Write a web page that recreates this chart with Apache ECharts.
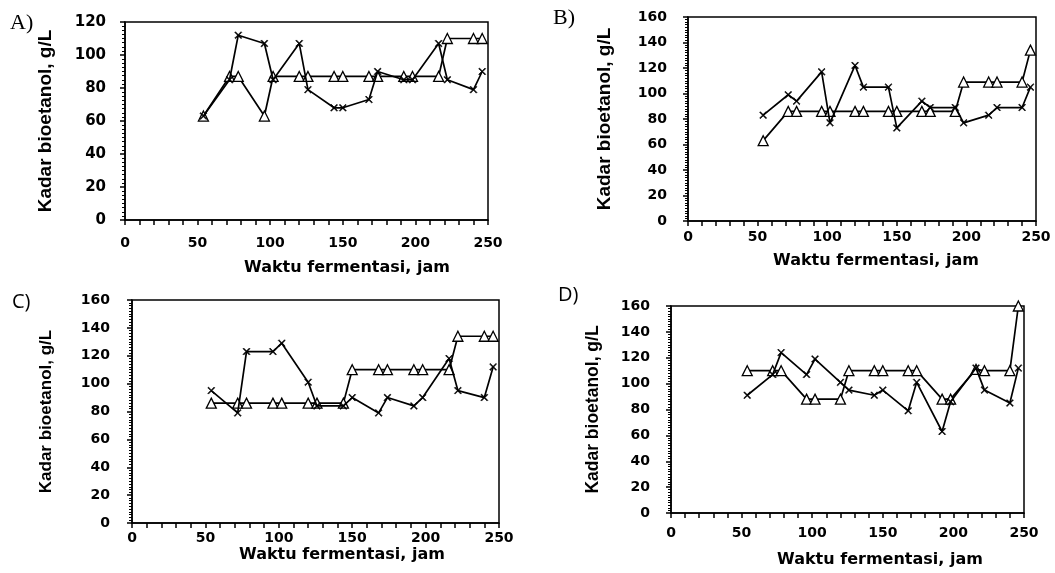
<!DOCTYPE html>
<html>
<head>
<meta charset="utf-8">
<script src="https://cdn.jsdelivr.net/npm/echarts@6/dist/echarts.min.js"></script>
<style>
  html, body { margin: 0; padding: 0; background: #fff; }
  #chart { width: 1055px; height: 573px; }
</style>
</head>
<body>
<div id="chart"></div>
<script>
// sampling times, hours
const hours = [54, 72, 78, 96, 102, 120, 126, 144, 150, 168, 174, 192, 198, 216, 222, 240, 246];

// bioethanol content, g/L
const triA = [63, 87, 87, 63, 87, 87, 87, 87, 87, 87, 87, 87, 87, 87, 110, 110, 110];
const starA = [63, 85, 112, 107, 85, 107, 79, 68, 68, 73, 90, 85, 85, 107, 85, 79, 90];
const triB = [63, 86, 86, 86, 86, 86, 86, 86, 86, 86, 86, 86, 109, 109, 109, 109, 134];
const starB = [83, 99, 94, 117, 77, 122, 105, 105, 73, 94, 89, 89, 77, 83, 89, 89, 105];
const triC = [86, 86, 86, 86, 86, 86, 86, 86, 110, 110, 110, 110, 110, 110, 134, 134, 134];
const starC = [95, 79, 123, 123, 129, 101, 84, 84, 90, 79, 90, 84, 90, 118, 95, 90, 112];
const triD = [110, 110, 110, 88, 88, 88, 110, 110, 110, 110, 110, 88, 88, 111, 110, 110, 160];
const starD = [91, 107, 124, 107, 119, 101, 95, 91, 95, 79, 101, 63, 86, 112, 95, 85, 112];

const panelNames = ['A)', 'B)', 'C)', 'D)'];
const yMax = [120, 160, 160, 160];

const xTitle = 'Waktu fermentasi, jam';
const yTitle = 'Kadar bioetanol, g/L';

const starPath = 'path://M0,1L1,0L5,4L9,0L10,1L6,5L10,9L9,10L5,6L1,10L0,9L4,5Z';

// one entry per panel: grid box and text placement
const panels = [
  { left: 125, top: 22, width: 363, height: 198, xMargin: 16, yMargin: 19, yGap: 70, ySize: 19, yFont: 15, minor: 8,
    label: [10, 25, 'serif'], xt: [347, 268] },
  { left: 688, top: 17, width: 348, height: 204, xMargin: 9, yMargin: 21, yGap: 74, ySize: 19, yFont: 14, minor: 10,
    label: [553, 20, 'serif'], xt: [876, 261] },
  { left: 132, top: 300, width: 367, height: 223, xMargin: 8, yMargin: 22, yGap: 77, ySize: 17, yFont: 14, minor: 10,
    label: [12, 305, 'sans'], xt: [342, 555] },
  { left: 671, top: 306, width: 353, height: 207, xMargin: 13, yMargin: 21, yGap: 69, ySize: 17.5, yFont: 14, minor: 10,
    label: [558, 298, 'sans'], xt: [880, 560] }
];

const seriesData = [[triA, starA], [triB, starB], [triC, starC], [triD, starD]];

function pairs(ys) {
  return hours.map((h, i) => [h, ys[i]]);
}

const grid = [];
const xAxis = [];
const yAxis = [];
const series = [];
const graphic = [];

panels.forEach((p, i) => {
  grid.push({
    left: p.left, top: p.top, width: p.width, height: p.height,
    show: true, borderColor: '#000', borderWidth: 1.5, backgroundColor: '#fff'
  });
  xAxis.push({
    type: 'value', gridIndex: i, min: 0, max: 250, interval: 50,
    axisLine: { show: true, onZero: false, lineStyle: { color: '#000', width: 1.5 } },
    axisTick: { show: true, length: 5, lineStyle: { color: '#000', width: 1.5 } },
    minorTick: { show: true, splitNumber: 5, length: 5, lineStyle: { color: '#000', width: 1.5 } },
    splitLine: { show: false },
    axisLabel: { margin: p.xMargin, color: '#000', fontFamily: 'DejaVu Sans', fontWeight: 'bold', fontSize: 14 }
  });
  yAxis.push({
    type: 'value', gridIndex: i, min: 0, max: yMax[i], interval: 20,
    name: yTitle, nameLocation: 'middle', nameGap: p.yGap, nameRotate: 90,
    nameTextStyle: { color: '#000', fontFamily: 'Liberation Sans', fontWeight: 'bold', fontSize: p.ySize },
    axisLine: { show: true, onZero: false, lineStyle: { color: '#000', width: 1.5 } },
    axisTick: { show: true, length: 5, lineStyle: { color: '#000', width: 1.5 } },
    minorTick: { show: true, splitNumber: p.minor, length: 3, lineStyle: { color: '#000', width: 1 } },
    splitLine: { show: false },
    axisLabel: { margin: p.yMargin, color: '#000', fontFamily: 'DejaVu Sans', fontWeight: 'bold', fontSize: p.yFont }
  });
  series.push({
    type: 'line', xAxisIndex: i, yAxisIndex: i, data: pairs(seriesData[i][0]),
    symbol: 'triangle', symbolSize: 10, clip: false, z: 3,
    lineStyle: { color: '#000', width: 1.7 },
    itemStyle: { color: '#fff', borderColor: '#000', borderWidth: 1.3 }
  });
  series.push({
    type: 'line', xAxisIndex: i, yAxisIndex: i, data: pairs(seriesData[i][1]),
    symbol: starPath, symbolSize: 7, clip: false, z: 4,
    lineStyle: { color: '#000', width: 1.7 },
    itemStyle: { color: '#000', borderColor: '#000', borderWidth: 0.6 }
  });
  graphic.push({
    type: 'text', left: p.label[0], top: p.label[1] - 13,
    style: {
      text: panelNames[i], fill: '#000',
      font: p.label[2] === 'serif' ? '22px "Liberation Serif"' : '20px "Open Sans"'
    }
  });
  graphic.push({
    type: 'text', x: p.xt[0], y: p.xt[1],
    style: {
      text: xTitle, fill: '#000', align: 'center', verticalAlign: 'middle',
      font: 'bold 16px "DejaVu Sans"'
    }
  });
});

const chart = echarts.init(document.getElementById('chart'));
chart.setOption({
  animation: false,
  backgroundColor: '#fff',
  grid: grid,
  xAxis: xAxis,
  yAxis: yAxis,
  series: series,
  graphic: graphic
});
</script>
</body>
</html>
